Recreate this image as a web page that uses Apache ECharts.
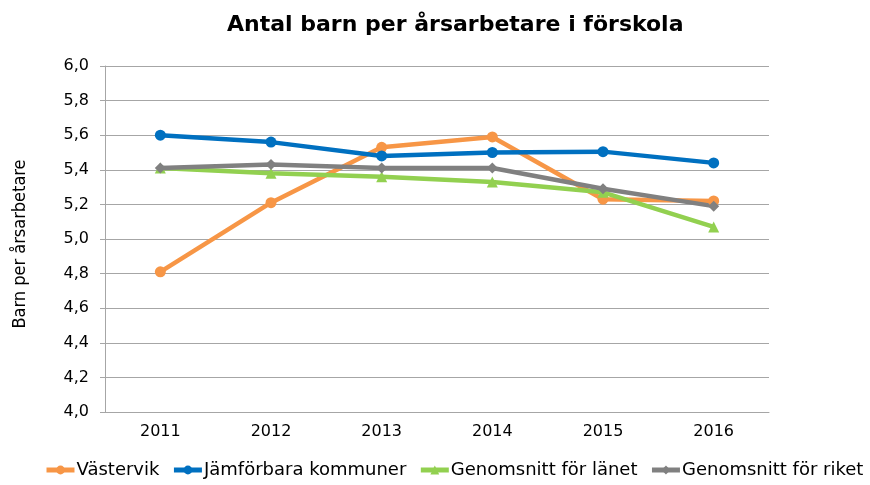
<!DOCTYPE html>
<html><head><meta charset="utf-8">
<script src="https://cdn.jsdelivr.net/npm/echarts@6/dist/echarts.min.js"></script>
<style>html,body{margin:0;padding:0;background:#fff}#c{width:870px;height:485px}</style>
</head><body><div id="c"></div>
<script>
const years = ['2011','2012','2013','2014','2015','2016'];
const vastervik = [4.81, 5.21, 5.53, 5.59, 5.23, 5.22];
const jamforbara = [5.60, 5.56, 5.48, 5.50, 5.505, 5.44];
const lanet = [5.41, 5.38, 5.36, 5.33, 5.27, 5.07];
const riket = [5.41, 5.43, 5.41, 5.41, 5.29, 5.19];
const names = ['Västervik','Jämförbara kommuner','Genomsnitt för länet','Genomsnitt för riket'];
const colors = ['#F79646','#0070C0','#92D050','#808080'];
const symbols = ['circle','circle','triangle','diamond'];
const datasets = [vastervik, jamforbara, lanet, riket];

const chart = echarts.init(document.getElementById('c'));
chart.setOption({
  animation:false,
  title:{text:'Antal barn per årsarbetare i förskola', left:222, top:9,
    textStyle:{fontFamily:'DejaVu Sans', fontWeight:'bold', fontSize:22, color:'#000'}},
  legend:{bottom:1, left:39, itemWidth:28, itemHeight:11, itemGap:12,
    lineStyle:{width:5},
    textStyle:{fontFamily:'DejaVu Sans', fontSize:18, color:'#000', padding:[0,0,0,-3]},
    data:names},
  grid:{left:105, right:101, top:66, bottom:73},
  xAxis:{type:'category', data:years, boundaryGap:true,
    axisLine:{lineStyle:{color:'#A6A6A6', width:1}}, axisTick:{show:false},
    axisLabel:{fontFamily:'DejaVu Sans', fontSize:16, color:'#000', margin:12}},
  yAxis:{type:'value', min:4, max:6, interval:0.2,
    name:'Barn per årsarbetare', nameLocation:'middle', nameGap:76, nameRotate:90,
    nameTextStyle:{fontFamily:'DejaVu Sans Condensed', fontSize:18, color:'#000', padding:[0,10,0,0]},
    axisLine:{show:true, lineStyle:{color:'#A6A6A6'}},
    axisTick:{show:true, length:5, lineStyle:{color:'#A6A6A6'}},
    splitLine:{lineStyle:{color:'#A6A6A6'}},
    axisLabel:{fontFamily:'DejaVu Sans', fontSize:16, color:'#000', margin:16,
      formatter:v=>v.toFixed(1).replace('.',',')}},
  series: datasets.map((d,i)=>({
    name:names[i], type:'line', data:d, color:colors[i],
    symbol:symbols[i], symbolSize:11,
    lineStyle:{width:4.5, color:colors[i]}, itemStyle:{color:colors[i]}
  }))
});
</script></body></html>
